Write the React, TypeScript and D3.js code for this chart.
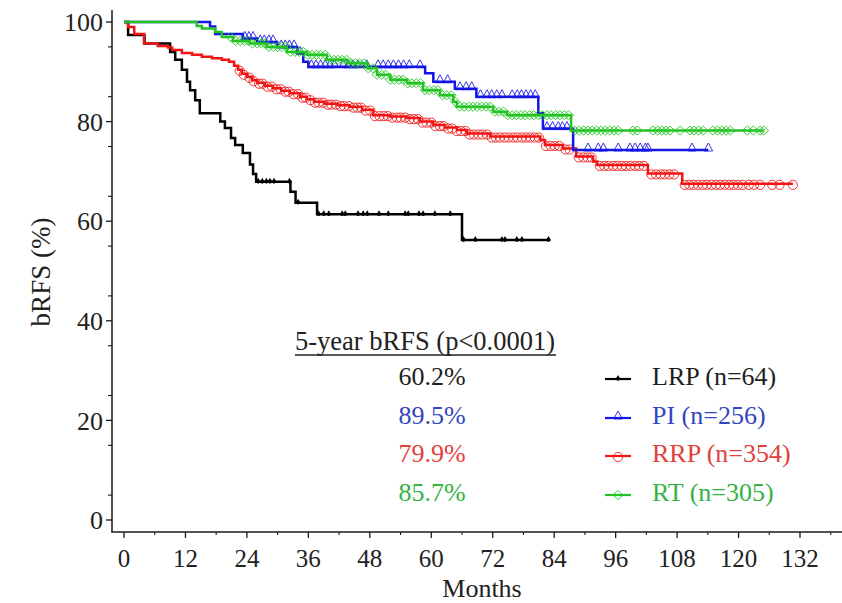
import React from "react";
import * as d3 from "d3";

type Step = [number, number];

const xTicks = [0, 12, 24, 36, 48, 60, 72, 84, 96, 108, 120, 132];
const yTicks = [0, 20, 40, 60, 80, 100];

// LRP (black)
const lrpSteps: Step[] = [
  [0, 100], [0.8, 97.4], [4.0, 95.7], [9.0, 94.0], [10.0, 92.4], [11.3, 90.4],
  [12.3, 88.0], [12.9, 86.3], [13.9, 84.3], [14.8, 81.7], [18.8, 80.0],
  [19.7, 78.7], [20.9, 76.7], [21.7, 75.3], [23.2, 73.7], [24.6, 71.4],
  [25.2, 69.5], [25.8, 67.9], [32.5, 65.9], [33.5, 63.7], [37.7, 61.4], [66.0, 56.2],
];
const lrpCensor = [
  26.2, 27.0, 27.8, 28.5, 29.3, 32.3, 34.0, 38.0, 39.0, 40.0, 42.6, 43.2, 45.7,
  46.7, 47.5, 49.8, 51.6, 54.9, 55.5, 57.6, 58.4, 60.7, 63.7, 66.3, 68.6, 73.8,
  74.4, 76.7, 77.7, 82.9,
];
const lrpEnd = 82.9;

// PI (blue)
const piSteps: Step[] = [
  [0, 100], [16.8, 99.1], [17.8, 97.6], [23.2, 96.7], [26.0, 96.0], [29.9, 95.0],
  [33.8, 93.7], [35.0, 92.0], [36.0, 91.0], [58.8, 89.7], [60.4, 88.0],
  [64.6, 86.6], [68.8, 85.0], [80.9, 81.7], [81.8, 78.6], [87.7, 74.3],
];
const piCensor = [
  23.6, 24.4, 25.2, 26.6, 27.4, 28.3, 29.1, 30.7, 31.5, 32.3, 33.2, 34.4, 36.6,
  37.5, 38.4, 39.3, 40.2, 41.1, 42.8, 43.8, 44.7, 45.7, 47.4, 49.6, 50.6, 51.6,
  52.6, 53.6, 54.6, 55.7, 57.8, 61.7, 63.2, 65.6, 66.8, 67.9, 69.6, 70.9, 71.8,
  72.8, 73.8, 75.8, 76.8, 77.6, 78.5, 79.4, 80.3, 82.6, 83.7, 84.8, 85.6, 86.5,
  90.6, 92.6, 93.6, 96.5, 98.8, 99.8, 100.8, 101.8, 102.3, 110.9, 114.1,
];
const piEnd = 114.1;

// RRP (red)
const rrpSteps: Step[] = [
  [0, 100], [0.8, 99.0], [2.0, 97.6], [3.9, 95.7], [6.6, 95.2], [8.6, 94.9],
  [9.4, 94.4], [11.3, 93.8], [13.3, 93.4], [15.2, 93.0], [17.2, 92.7],
  [19.1, 92.4], [20.5, 92.0], [21.5, 91.2], [22.3, 90.4], [23.0, 89.6],
  [24.0, 89.0], [25.0, 88.3], [26.0, 87.8], [27.5, 87.2], [29.1, 86.7],
  [30.7, 86.2], [32.4, 85.7], [34.4, 85.0], [35.7, 84.5], [37.1, 84.0],
  [39.3, 83.6], [41.8, 83.3], [44.1, 83.0], [46.5, 82.4], [48.6, 81.3],
  [52.0, 81.0], [55.3, 80.7], [57.8, 80.0], [60.4, 79.3], [62.7, 78.8],
  [65.0, 78.3], [67.0, 77.6], [71.5, 77.0], [81.3, 76.3], [82.2, 75.3],
  [85.7, 74.6], [88.3, 73.0], [91.6, 72.0], [92.4, 71.3], [102.3, 69.6],
  [109.0, 67.5],
];
const rrpCensor = [
  22.6, 23.4, 24.5, 25.3, 26.4, 27.1, 28.0, 28.9, 29.8, 30.6, 31.5, 32.2, 33.1,
  34.0, 34.8, 35.5, 36.4, 37.3, 38.0, 38.9, 39.8, 40.5, 41.4, 42.3, 43.0, 43.9,
  44.8, 45.6, 46.3, 47.2, 48.1, 49.0, 49.9, 50.7, 51.5, 52.4, 53.3, 54.0, 54.9,
  55.8, 56.6, 57.4, 58.3, 59.1, 60.0, 60.8, 61.7, 62.4, 63.3, 64.1, 65.0, 65.8,
  66.7, 67.5, 68.3, 69.2, 70.0, 70.9, 71.8, 72.6, 73.4, 74.3, 75.1, 76.0, 76.8,
  77.7, 78.5, 79.3, 80.2, 81.0, 82.4, 83.3, 84.1, 85.0, 86.2, 87.0, 88.8, 89.7,
  90.5, 91.3, 92.9, 93.8, 94.6, 95.5, 96.3, 97.2, 98.0, 98.9, 99.8, 100.6, 101.5,
  103.0, 103.9, 104.8, 105.6, 106.5, 107.4, 109.5, 110.4, 111.2, 112.1, 113.0,
  113.8, 114.7, 115.6, 116.4, 117.3, 118.2, 119.0, 119.9, 120.8, 122.0, 123.0,
  124.2, 126.6, 128.0, 130.6,
];
const rrpEnd = 130.6;

// RT (green)
const rtSteps: Step[] = [
  [0, 100], [14.2, 99.2], [15.2, 98.7], [17.8, 98.0], [19.1, 97.0], [21.3, 96.2],
  [24.6, 95.7], [27.9, 95.0], [31.8, 94.0], [35.7, 93.4], [39.6, 92.4],
  [43.6, 91.7], [47.5, 90.7], [49.4, 89.4], [52.0, 88.4], [55.3, 87.7],
  [58.4, 86.3], [61.7, 85.3], [64.3, 84.0], [65.0, 83.0], [72.1, 82.0],
  [74.8, 81.3], [87.3, 78.2],
];
const rtCensor = [
  20.8, 21.8, 22.7, 23.5, 24.3, 25.1, 26.0, 26.8, 27.5, 28.3, 29.2, 30.0, 30.8,
  31.7, 32.5, 33.4, 34.2, 35.0, 35.9, 36.7, 37.6, 38.4, 39.3, 40.1, 41.0, 41.8,
  42.6, 43.5, 44.3, 45.2, 46.0, 46.9, 47.7, 48.6, 49.4, 50.3, 51.1, 52.0, 52.8,
  53.7, 54.5, 55.4, 56.2, 57.1, 57.9, 58.8, 59.6, 60.5, 61.3, 62.2, 63.0, 63.9,
  64.7, 65.6, 66.4, 67.3, 68.1, 69.0, 69.8, 70.7, 71.5, 72.4, 73.2, 74.1, 74.9,
  75.8, 76.6, 77.5, 78.3, 79.2, 80.0, 80.9, 81.7, 82.6, 83.4, 84.3, 85.1, 86.0,
  86.8, 88.0, 88.9, 89.7, 90.6, 91.4, 92.3, 93.1, 94.0, 94.8, 95.7, 96.5, 99.4,
  100.2, 103.3, 104.2, 105.0, 105.8, 106.6, 108.6, 110.5, 111.3, 112.2, 113.1,
  115.0, 115.9, 116.7, 117.6, 118.4, 121.7, 122.9, 124.2, 124.9,
];
const rtEnd = 124.9;

const legendNames = ["LRP (n=64)", "PI (n=256)", "RRP (n=354)", "RT (n=305)"];
const fiveYear = ["60.2%", "89.5%", "79.9%", "85.7%"];
const legendTitle = "5-year bRFS (p<0.0001)";

const W = 842;
const H = 603;
const FONT = "'Liberation Serif', 'Times New Roman', Times, serif";

const x = d3.scaleLinear().domain([0, 132]).range([124, 800]);
const y = d3.scaleLinear().domain([0, 100]).range([520, 22]);

type Kind = "tick" | "tri" | "circle" | "diamond";

interface Series {
  steps: Step[];
  censor: number[];
  end: number;
  color: string;
  textColor: string;
  kind: Kind;
}

const series: Series[] = [
  { steps: lrpSteps, censor: lrpCensor, end: lrpEnd, color: "#000000", textColor: "#1e1e1e", kind: "tick" },
  { steps: rrpSteps, censor: rrpCensor, end: rrpEnd, color: "#f01414", textColor: "#e2403a", kind: "circle" },
  { steps: piSteps, censor: piCensor, end: piEnd, color: "#1414e6", textColor: "#3446bd", kind: "tri" },
  { steps: rtSteps, censor: rtCensor, end: rtEnd, color: "#22c422", textColor: "#35b342", kind: "diamond" },
];
const legendOrder = [0, 2, 1, 3]; // LRP, PI, RRP, RT

function valueAt(steps: Step[], t: number): number {
  let v = steps[0][1];
  for (const [tt, vv] of steps) {
    if (tt <= t) v = vv;
    else break;
  }
  return v;
}

function Marker({ cx, cy, kind, color }: { cx: number; cy: number; kind: Kind; color: string }) {
  if (kind === "circle") {
    return <circle cx={cx} cy={cy + 1} r={4.6} fill="none" stroke={color} strokeWidth={1} strokeOpacity={0.85} />;
  }
  if (kind === "tri") {
    return (
      <path
        d={`M${cx},${cy - 7} L${cx + 4.3},${cy + 1} L${cx - 4.3},${cy + 1} Z`}
        fill="none"
        stroke={color}
        strokeWidth={1}
        strokeOpacity={0.85}
      />
    );
  }
  if (kind === "diamond") {
    return (
      <path
        d={`M${cx - 5},${cy} L${cx},${cy - 4.5} L${cx + 5},${cy} L${cx},${cy + 4.5} Z`}
        fill="none"
        stroke={color}
        strokeWidth={1}
        strokeOpacity={0.85}
      />
    );
  }
  return (
    <g>
      <path d={`M${cx - 2.6},${cy + 0.5} L${cx},${cy - 4} L${cx + 2.6},${cy + 0.5} Z`} fill={color} />
      <circle cx={cx} cy={cy} r={1.8} fill={color} />
    </g>
  );
}

export default function App() {
  const line = d3
    .line<Step>()
    .x((d) => x(d[0]))
    .y((d) => y(d[1]))
    .curve(d3.curveStepAfter);

  const minorX = d3.range(0, 139, 6).filter((m) => m % 12 !== 0);
  const minorY = d3.range(5, 100, 10);

  const axisColor = "#1a1a1a";
  const textColor = "#222222";

  const rowBase = [385, 424, 462, 501];

  return (
    <svg
      width={W}
      height={H}
      viewBox={`0 0 ${W} ${H}`}
      style={{ position: "absolute", left: 0, top: 0, background: "#fff" }}
      fontFamily={FONT}
    >
      <rect x={0} y={0} width={W} height={H} fill="#fff" />

      {/* axes */}
      <line x1={112} y1={10} x2={112} y2={532} stroke={axisColor} strokeWidth={1.5} />
      <line x1={111.25} y1={532} x2={842} y2={532} stroke={axisColor} strokeWidth={1.5} />

      {yTicks.map((v) => (
        <g key={"yt" + v}>
          <line x1={106} x2={112} y1={y(v)} y2={y(v)} stroke={axisColor} strokeWidth={1.3} />
          <text x={103} y={y(v)} dy="0.35em" textAnchor="end" fontSize={26} fill={textColor}>
            {v}
          </text>
        </g>
      ))}
      {minorY.map((v) => (
        <line key={"ym" + v} x1={108} x2={112} y1={y(v)} y2={y(v)} stroke={axisColor} strokeWidth={1.1} />
      ))}
      {xTicks.map((m) => (
        <g key={"xt" + m}>
          <line x1={x(m)} x2={x(m)} y1={532} y2={538} stroke={axisColor} strokeWidth={1.3} />
          <text x={x(m)} y={567} textAnchor="middle" fontSize={25} fill={textColor}>
            {m}
          </text>
        </g>
      ))}
      {minorX.map((m) => (
        <line key={"xm" + m} x1={x(m)} x2={x(m)} y1={532} y2={535} stroke={axisColor} strokeWidth={1.1} />
      ))}

      <text x={482} y={597} textAnchor="middle" fontSize={26} fill={textColor}>
        Months
      </text>
      <text
        transform={`translate(50,272) rotate(-90)`}
        textAnchor="middle"
        fontSize={27}
        fill={textColor}
      >
        bRFS (%)
      </text>

      {/* curves */}
      {series.map((s, i) => {
        const last = s.steps[s.steps.length - 1];
        const pts: Step[] = [...s.steps, [s.end, last[1]]];
        return (
          <g key={"s" + i}>
            <path d={line(pts) || ""} fill="none" stroke={s.color} strokeWidth={2.5} />
            {s.censor.map((t, j) => (
              <Marker key={j} cx={x(t)} cy={y(valueAt(s.steps, t))} kind={s.kind} color={s.color} />
            ))}
          </g>
        );
      })}

      {/* legend block */}
      <text x={295} y={350} fontSize={26.5} fill={textColor}>
        {legendTitle}
      </text>
      <line x1={295} x2={556} y1={355} y2={355} stroke={textColor} strokeWidth={1.3} />
      {legendOrder.map((si, r) => {
        const s = series[si];
        const yb = rowBase[r];
        const ly = yb - 6;
        return (
          <g key={"lg" + r}>
            <text x={432} y={yb} textAnchor="middle" fontSize={26} fill={s.textColor}>
              {fiveYear[r]}
            </text>
            <line x1={605} x2={631} y1={ly} y2={ly} stroke={s.color} strokeWidth={2.2} />
            <Marker cx={618} cy={ly} kind={s.kind} color={s.color} />
            <text x={652} y={yb} fontSize={26} fill={s.textColor}>
              {legendNames[r]}
            </text>
          </g>
        );
      })}
    </svg>
  );
}
